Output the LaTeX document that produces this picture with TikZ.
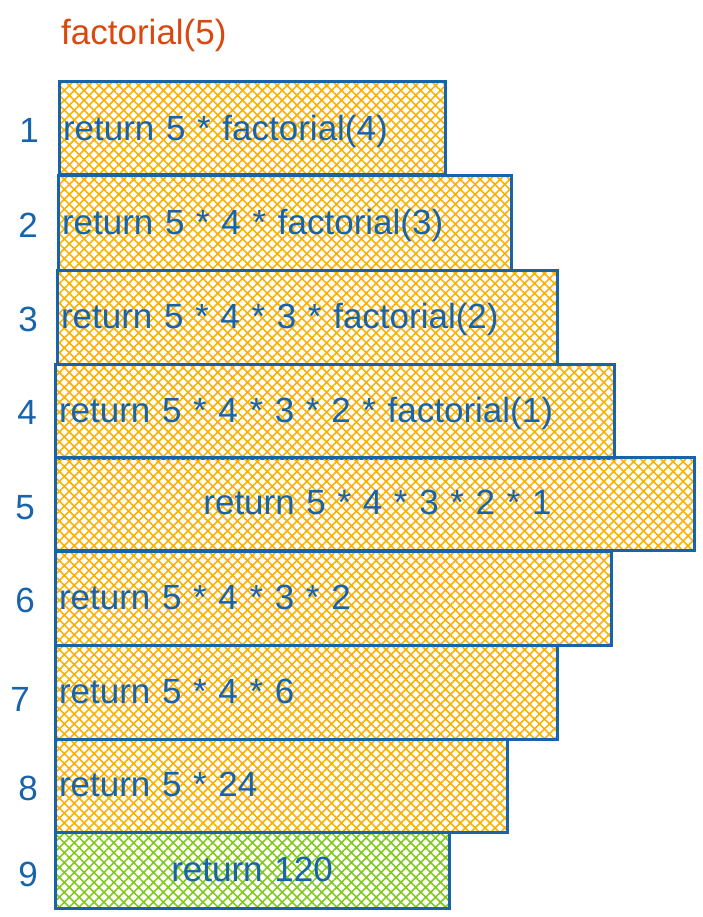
\documentclass[tikz,border=0pt]{standalone}
\usepackage{fontspec}
\setmainfont{Liberation Sans}
\usetikzlibrary{patterns.meta}
\definecolor{sb}{HTML}{1864AB}
\definecolor{hy}{HTML}{FAB005}
\definecolor{hg}{HTML}{82C91E}
\definecolor{tr}{HTML}{D9480F}
\begin{document}
\begin{tikzpicture}[x=1pt,y=-1pt,
  txt/.style={font=\fontsize{35}{40}\selectfont, inner sep=0pt},
  framebox/.style={txt, draw=sb, line width=3pt, anchor=north west, outer sep=0pt,
     text=sb, inner xsep=4pt, inner ysep=0pt, minimum height=#1, text depth=2pt},
  yel/.style={pattern={Hatch[angle=45,distance=7pt,line width=1.6pt]}, pattern color=hy},
  grn/.style={pattern={Hatch[angle=45,distance=7pt,line width=1.6pt]}, pattern color=hg},
  num/.style={txt, text=sb}]
\useasboundingbox (0,0) rectangle (703,917);
\node[txt, text=tr, anchor=west] (title) at (61,35) {factorial(5)};

\node[framebox=93pt, yel, text width=378pt, align=left] (b1) at (59,82) {return 5 * factorial(4)};
\node[framebox=94pt, yel, text width=445pt, align=left] (b2) at (58,176) {return 5 * 4 * factorial(3)};
\node[framebox=94pt, yel, text width=492pt, align=left] (b3) at (57,270) {return 5 * 4 * 3 * factorial(2)};
\node[framebox=94pt, yel, text width=551pt, align=left] (b4) at (55,364) {return 5 * 4 * 3 * 2 * factorial(1)};
\node[framebox=93pt, yel, text width=631pt, align=center] (b5) at (55,457) {\hspace*{6pt}return 5 * 4 * 3 * 2 * 1};
\node[framebox=94pt, yel, text width=548pt, align=left] (b6) at (55,551) {return 5 * 4 * 3 * 2};
\node[framebox=94pt, yel, text width=494pt, align=left] (b7) at (55,645) {return 5 * 4 * 6};
\node[framebox=93pt, yel, text width=444pt, align=left] (b8) at (55,739) {return 5 * 24};
\node[framebox=76pt, grn, text width=386pt, align=center] (b9) at (55,832) {return 120};

\node[num] (n1) at (29,130) {1};
\node[num] (n2) at (28,225) {2};
\node[num] (n3) at (28,319) {3};
\node[num] (n4) at (27,412) {4};
\node[num] (n5) at (25,508) {5};
\node[num] (n6) at (25,600) {6};
\node[num] (n7) at (20,699) {7};
\node[num] (n8) at (28,788) {8};
\node[num] (n9) at (28,874) {9};
\end{tikzpicture}
\end{document}
